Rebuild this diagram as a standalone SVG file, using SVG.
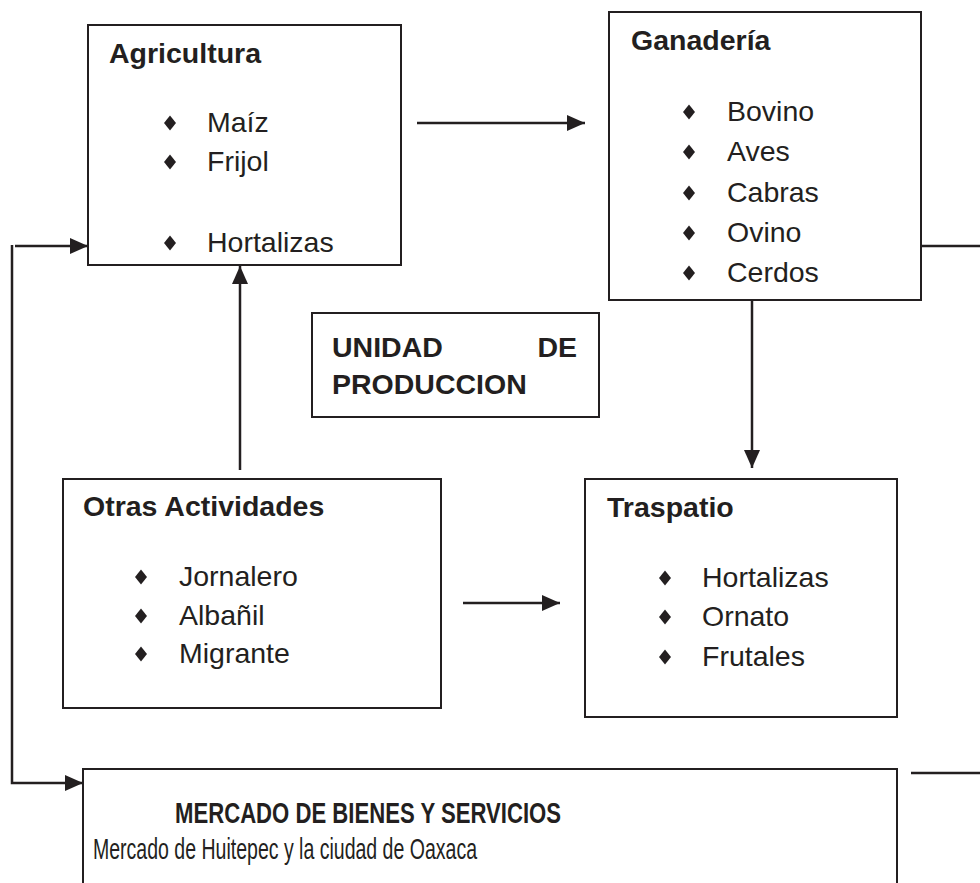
<svg xmlns="http://www.w3.org/2000/svg" width="980" height="883" viewBox="0 0 980 883">
<defs>
<style>
.box{fill:#fff;stroke:#231f20;stroke-width:2}
.t{font-family:"Liberation Sans",Arial,sans-serif;font-size:28.5px;fill:#231f20}
.b{font-weight:bold}
.ln{fill:none;stroke:#231f20;stroke-width:2.5}
.dm{fill:#231f20}
</style>
<marker id="ah" viewBox="0 0 18 16" refX="18" refY="8" markerWidth="18" markerHeight="16" markerUnits="userSpaceOnUse" orient="auto">
<path d="M0,0 L18,8 L0,16 Z" fill="#231f20"/>
</marker>
<polygon id="d" points="0,-7.5 6,0 0,7.5 -6,0"/>
</defs>
<rect width="980" height="883" fill="#fff"/>
<g id="connectors">
<line class="ln" x1="417" y1="123" x2="585" y2="123" marker-end="url(#ah)"/>
<line class="ln" x1="752" y1="300" x2="752" y2="468" marker-end="url(#ah)"/>
<line class="ln" x1="240" y1="470" x2="240" y2="266" marker-end="url(#ah)"/>
<line class="ln" x1="463" y1="603" x2="560" y2="603" marker-end="url(#ah)"/>
<path class="ln" d="M12,245 V783 H83" marker-end="url(#ah)"/>
<line class="ln" x1="15" y1="246" x2="88" y2="246" marker-end="url(#ah)"/>
<line class="ln" x1="921" y1="246" x2="980" y2="246"/>
<line class="ln" x1="911" y1="773" x2="980" y2="773"/>
</g>
<g id="agricultura">
<rect class="box" x="88" y="25" width="313" height="240"/>
<text class="t b" x="109" y="63">Agricultura</text>
<use href="#d" class="dm" x="170" y="123"/><text class="t" x="207" y="132">Maíz</text>
<use href="#d" class="dm" x="170" y="162"/><text class="t" x="207" y="171">Frijol</text>
<use href="#d" class="dm" x="170" y="243"/><text class="t" x="207" y="252">Hortalizas</text>
</g>
<g id="ganaderia">
<rect class="box" x="609" y="12" width="312" height="288"/>
<text class="t b" x="631" y="50">Ganadería</text>
<use href="#d" class="dm" x="689" y="112"/><text class="t" x="727" y="121">Bovino</text>
<use href="#d" class="dm" x="689" y="152"/><text class="t" x="727" y="161">Aves</text>
<use href="#d" class="dm" x="689" y="193"/><text class="t" x="727" y="202">Cabras</text>
<use href="#d" class="dm" x="689" y="233"/><text class="t" x="727" y="242">Ovino</text>
<use href="#d" class="dm" x="689" y="273"/><text class="t" x="727" y="282">Cerdos</text>
</g>
<g id="unidad">
<rect class="box" x="312" y="313" width="287" height="104"/>
<text class="t b" x="332" y="357">UNIDAD</text>
<text class="t b" x="577" y="357" text-anchor="end">DE</text>
<text class="t b" x="332" y="394">PRODUCCION</text>
</g>
<g id="otras">
<rect class="box" x="63" y="479" width="378" height="229"/>
<text class="t b" x="83" y="516">Otras Actividades</text>
<use href="#d" class="dm" x="141" y="577"/><text class="t" x="179" y="586">Jornalero</text>
<use href="#d" class="dm" x="141" y="616"/><text class="t" x="179" y="625">Albañil</text>
<use href="#d" class="dm" x="141" y="654"/><text class="t" x="179" y="663">Migrante</text>
</g>
<g id="traspatio">
<rect class="box" x="585" y="479" width="312" height="238"/>
<text class="t b" x="607" y="517">Traspatio</text>
<use href="#d" class="dm" x="665" y="578"/><text class="t" x="702" y="587">Hortalizas</text>
<use href="#d" class="dm" x="665" y="617"/><text class="t" x="702" y="626">Ornato</text>
<use href="#d" class="dm" x="665" y="657"/><text class="t" x="702" y="666">Frutales</text>
</g>
<g id="mercado">
<rect class="box" x="83" y="769" width="814" height="130"/>
<text class="t b" x="175" y="823" style="font-size:29px" textLength="386" lengthAdjust="spacingAndGlyphs">MERCADO DE BIENES Y SERVICIOS</text>
<text class="t" x="93" y="859" style="font-size:29px" textLength="384" lengthAdjust="spacingAndGlyphs">Mercado de Huitepec y la ciudad de Oaxaca</text>
</g>
</svg>
